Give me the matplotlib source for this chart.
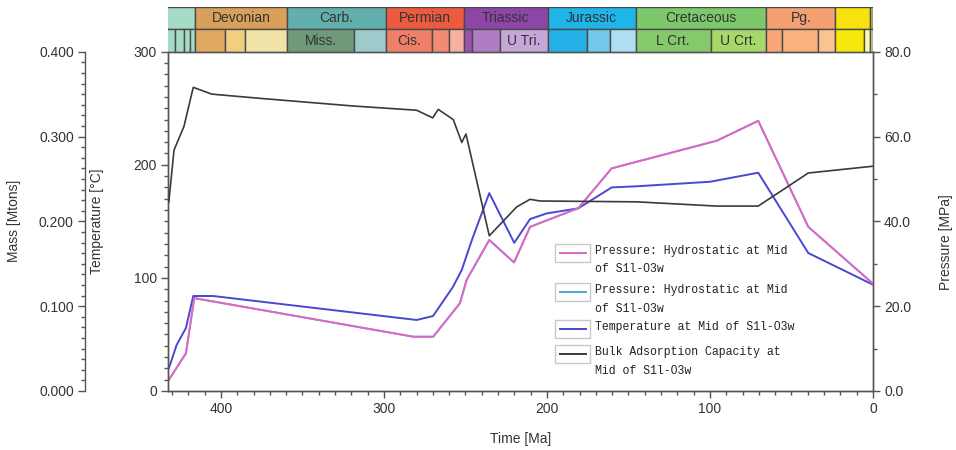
import matplotlib
matplotlib.use("Agg")
import matplotlib.pyplot as plt
from matplotlib.ticker import MultipleLocator, AutoMinorLocator, FormatStrFormatter
from matplotlib.patches import Rectangle
from matplotlib.lines import Line2D

plt.rcParams['font.family'] = ['Liberation Sans', 'DejaVu Sans']

# 温度 (°C)
temp_age = [432, 427.2, 421.5, 417.0, 404.9, 280.0, 269.9, 257.7, 252.3, 246.2, 235.4,
            220.1, 210.4, 200.2, 180.8, 160.3, 145.0, 100.0, 70.4, 39.7, 0]
temp_val = [20, 40.7, 55.7, 84, 84, 62.8, 66.3, 92, 107, 133, 175,
            131, 152, 157, 161.5, 180, 181, 185, 193, 122, 94]

# 静水压力 (MPa)
pres_age = [432, 421.5, 416.4, 282.0, 269.8, 253.4, 249.3, 235.4, 220.2, 210.4,
            180.8, 160.3, 95.9, 70.4, 39.7, 0]
pres_val = [2.6, 8.9, 21.9, 12.8, 12.8, 20.7, 26.2, 35.6, 30.3, 38.7,
            43.1, 52.5, 59.0, 63.7, 38.7, 25.3]

# 吸附能力 (Mtons)
ads_age = [432, 428.8, 422.7, 417.0, 405.7, 376.0, 319.0, 280.0, 270.1, 266.7, 257.5,
           252.3, 249.7, 235.4, 218.6, 210.4, 204.3, 145.0, 95.9, 70.4, 39.7, 0]
ads_val = [0.223, 0.284, 0.312, 0.358, 0.350, 0.345, 0.336, 0.331, 0.322, 0.332, 0.320,
           0.293, 0.303, 0.183, 0.217, 0.226, 0.224, 0.223, 0.218, 0.218, 0.257, 0.265]

# 地质年代表
period_names = ["", "Devonian", "Carb.", "Permian", "Triassic", "Jurassic", "Cretaceous", "Pg.", "", ""]
period_old = [443.7, 416.0, 359.2, 299.0, 251.0, 199.6, 145.5, 65.5, 23.03, 1.8]
period_young = [416.0, 359.2, 299.0, 251.0, 199.6, 145.5, 65.5, 23.03, 1.8, 0.0]
period_colors = ["#a6dbc6", "#d9a05b", "#62b0ae", "#ee5a40", "#8e46a6", "#1eb5e8",
                 "#7cc86a", "#f5a070", "#f5e20e", "#bdb56a"]

epoch_names = ["", "", "", "", "", "", "", "Miss.", "", "Cis.", "", "", "", "", "U Tri.",
               "", "", "", "L Crt.", "U Crt.", "", "", "", "", "", ""]
epoch_old = [443.7, 428.2, 422.9, 418.7, 416.0, 397.5, 385.3, 359.2, 318.1, 299.0, 270.6, 260.4,
             251.0, 245.9, 228.7, 199.6, 175.6, 161.2, 145.5, 99.6, 65.5, 55.8, 33.9, 23.03, 5.33, 1.8]
epoch_young = [428.2, 422.9, 418.7, 416.0, 397.5, 385.3, 359.2, 318.1, 299.0, 270.6, 260.4, 251.0,
               245.9, 228.7, 199.6, 175.6, 161.2, 145.5, 99.6, 65.5, 55.8, 33.9, 23.03, 5.33, 1.8, 0.0]
epoch_colors = ["#a6dbc6", "#a6dbc6", "#a6dbc6", "#a6dbc6",
                "#e0a860", "#f1cf7e", "#f1e2a8",
                "#6f9a7a", "#9dcbcb",
                "#f07f6a", "#f38a72", "#f7b0a2",
                "#9a52ae", "#b07cc6", "#c7a6da",
                "#23b0e6", "#73c9ea", "#b0ddf3",
                "#85c96c", "#a7d86a",
                "#f7a876", "#f9b27d", "#fbc38f",
                "#f6e80a", "#fff9b0", "#d8d290"]

W, H = 956, 450
def box(l, t, r, b):
    return [l / W, 1 - b / H, (r - l) / W, (b - t) / H]

fig = plt.figure(figsize=(W / 100, H / 100), dpi=100)
ax = fig.add_axes(box(168, 51.7, 873, 391))
tax = fig.add_axes(box(168, 7, 873, 51.5))

XMAX = 432.5
ink = '#333333'
spine_c = '#555555'

# 年代表
tax.barh(1.5, [o - y for o, y in zip(period_old, period_young)], left=period_young, height=1,
         color=period_colors, edgecolor='#4a4a4a', linewidth=1)
tax.barh(0.5, [o - y for o, y in zip(epoch_old, epoch_young)], left=epoch_young, height=1,
         color=epoch_colors, edgecolor='#4a4a4a', linewidth=1)
for n, o, y in zip(period_names, period_old, period_young):
    if n:
        tax.text((o + y) / 2, 1.5, n, ha='center', va='center', fontsize=10, color=ink)
for n, o, y in zip(epoch_names, epoch_old, epoch_young):
    if n:
        tax.text((o + y) / 2, 0.45, n, ha='center', va='center', fontsize=10, color=ink)
tax.set_xlim(XMAX, 0)
tax.set_ylim(0, 2)
tax.axis('off')

# 主图
axp = ax.twinx()
axm = ax.twinx()

axp.plot(pres_age, pres_val, color='#4ea5d9', lw=1.3)
axp.plot(pres_age, pres_val, color='#e066c4', lw=1.4)
ax.plot(temp_age, temp_val, color='#4848d0', lw=1.4)
axm.plot(ads_age, ads_val, color='#3a3a3a', lw=1.2)

ax.set_xlim(XMAX, 0)
ax.set_ylim(0, 300)
axp.set_ylim(0, 80)
axm.set_ylim(0, 0.4)

ax.xaxis.set_major_locator(MultipleLocator(100))
ax.xaxis.set_minor_locator(MultipleLocator(10))
ax.yaxis.set_major_locator(MultipleLocator(100))
ax.yaxis.set_minor_locator(MultipleLocator(10))
axp.yaxis.set_major_locator(MultipleLocator(20))
axp.yaxis.set_minor_locator(MultipleLocator(10))
axp.yaxis.set_major_formatter(FormatStrFormatter('%.1f'))
axm.yaxis.set_major_locator(MultipleLocator(0.1))
axm.yaxis.set_minor_locator(AutoMinorLocator(8))
axm.yaxis.set_major_formatter(FormatStrFormatter('%.3f'))

axm.spines['left'].set_visible(True)
axm.spines['left'].set_position(('outward', 59.8))
axm.yaxis.set_ticks_position('left')
axm.yaxis.set_label_position('left')
for s in ['right', 'top', 'bottom']:
    axm.spines[s].set_visible(False)

for a in (ax, axp, axm):
    for s in a.spines.values():
        s.set_color(spine_c)
        s.set_linewidth(1)
    a.tick_params(which='major', direction='out', length=5, width=1, color=spine_c,
                  labelcolor=ink, labelsize=10, pad=3)
    a.tick_params(which='minor', direction='out', length=3, width=1, color=spine_c)

ax.set_xlabel("Time [Ma]", fontsize=10, color=ink)
ax.xaxis.set_label_coords(0.5, -0.12)
ax.set_ylabel("Temperature [°C]", fontsize=10, color=ink)
ax.yaxis.set_label_coords(-0.091, 0.5)
axm.set_ylabel("Mass [Mtons]", fontsize=10, color=ink)
axm.yaxis.set_label_coords(-0.209, 0.5)
axp.set_ylabel("Pressure [MPa]", fontsize=10, color=ink)
axp.yaxis.set_label_coords(1.093, 0.44)

# 图例
legend_colors = ['#e066c4', '#4ea5d9', '#4848d0', '#3a3a3a']
legend_lines = [["Pressure: Hydrostatic at Mid", "of S1l-O3w"],
                ["Pressure: Hydrostatic at Mid", "of S1l-O3w"],
                ["Temperature at Mid of S1l-O3w"],
                ["Bulk Adsorption Capacity at", "Mid of S1l-O3w"]]
legend_y = [253, 292, 329, 354]
for c, lines, yc in zip(legend_colors, legend_lines, legend_y):
    fig.add_artist(Rectangle((555 / W, 1 - (yc + 9) / H), 35 / W, 18 / H,
                             transform=fig.transFigure, facecolor='white',
                             edgecolor='#c8c8c8', linewidth=1))
    fig.add_artist(Line2D([560 / W, 586 / W], [1 - yc / H, 1 - yc / H],
                          transform=fig.transFigure, color=c, lw=1.4))
    for i, t in enumerate(lines):
        fig.text(595 / W, 1 - (yc - 2 + i * 18.5) / H, t, ha='left', va='center',
                 fontsize=8.3, family=['Liberation Mono'], color='#222222')

fig.savefig("out.png", dpi=100)
